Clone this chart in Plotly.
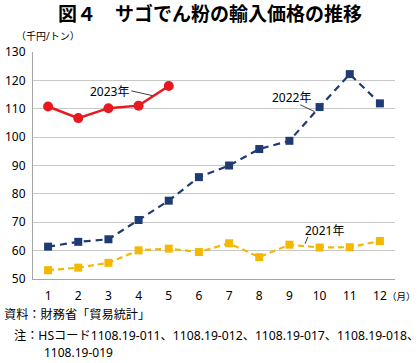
import plotly.graph_objects as go

months = list(range(1, 13))
month_labels = [str(m) for m in months]
v2021 = [53.1, 54.0, 55.7, 60.1, 60.7, 59.5, 62.6, 57.7, 62.1, 61.1, 61.2, 63.4]
v2022 = [61.4, 63.1, 64.0, 70.8, 77.6, 85.9, 90.0, 95.8, 98.7, 110.6, 122.2, 111.9]
v2023 = [110.8, 106.7, 110.2, 111.1, 118.0]
y_ticks = [50, 60, 70, 80, 90, 100, 110, 120, 130]

FONT = "Noto Sans, Noto Sans CJK JP"
CJK = "Noto Sans CJK JP"
RED = "#E8191E"
NAVY = "#1F3B73"
GOLD = "#F5B800"

W, H = 420, 363
L, R, T, B = 33, 25, 52, 84
PW, PH = W - L - R, H - T - B


def px(x):
    return (x - L) / PW


def py(y):
    return (H - B - y) / PH


fig = go.Figure()
fig.add_trace(go.Scatter(x=months, y=v2021, mode="lines+markers",
                         line=dict(color=GOLD, width=2.2, dash="6px,4px"),
                         marker=dict(symbol="square", size=8, color=GOLD)))
fig.add_trace(go.Scatter(x=months, y=v2022, mode="lines+markers",
                         line=dict(color=NAVY, width=2.2, dash="7px,5px"),
                         marker=dict(symbol="square", size=8, color=NAVY)))
fig.add_trace(go.Scatter(x=months[:len(v2023)], y=v2023, mode="lines+markers",
                         line=dict(color=RED, width=2.5),
                         marker=dict(symbol="circle", size=10, color=RED)))

# leader lines
for (x0, y0, x1, y1) in [(3.76, 116.3, 4.47, 114.6), (9.36, 111.4, 9.83, 109.0), (9.61, 64.9, 9.52, 62.4)]:
    fig.add_shape(type="line", x0=x0, y0=y0, x1=x1, y1=y1, xref="x", yref="y",
                  line=dict(color="#404040", width=1))

for (tx, ty, txt) in [(3.04, 116.1, "2023年"), (9.06, 113.8, "2022年"), (10.16, 67.1, "2021年")]:
    fig.add_annotation(x=tx, y=ty, xref="x", yref="y", text=txt, showarrow=False,
                       font=dict(family=FONT, size=12, color="#000"))

fig.update_layout(
    width=W, height=H,
    margin=dict(l=L, r=R, t=T, b=B, autoexpand=False),
    paper_bgcolor="white", plot_bgcolor="white",
    showlegend=False,
    font=dict(family=FONT, size=12, color="#000"),
    title=dict(text="<b>図４　サゴでん粉の輸入価格の推移</b>", x=0.5, xanchor="center",
               xref="container", yref="container",
               y=1 - 14 / H, yanchor="middle", font=dict(family=CJK, size=19, color="#000")),
    xaxis=dict(range=[0.5, 12.5], tickvals=months, ticktext=month_labels, showgrid=False,
               showline=True, linecolor="#A6A6A6", linewidth=1, ticks="", zeroline=False,
               automargin=False, tickfont=dict(family=FONT, size=12), ticklabelstandoff=6),
    yaxis=dict(range=[50, 130], tickvals=y_ticks, showgrid=True, gridcolor="#C8C8C8", gridwidth=1,
               showline=True, linecolor="#A6A6A6", linewidth=1, ticks="", zeroline=False,
               automargin=False, tickfont=dict(family=FONT, size=12), ticklabelstandoff=4),
)

notes = [
    (14, 36, "（千円/トン）", 10, "left"),
    (418, 296, "（月）", 9.5, "right"),
    (2, 314, "資料：財務省「貿易統計」", 12.2, "left"),
    (12, 335, "注：HSコード1108.19-011、1108.19-012、1108.19-017、1108.19-018、", 12.2, "left"),
    (42, 353, "1108.19-019", 12, "left"),
]
for (x, y, txt, sz, anc) in notes:
    fig.add_annotation(x=px(x), y=py(y), xref="paper", yref="paper", xanchor=anc, yanchor="middle",
                       text=txt, showarrow=False, font=dict(family=FONT, size=sz))

fig.write_html("out.html", config={"displayModeBar": False},
               post_script="document.body.style.margin='0';document.body.style.overflow='hidden';")
